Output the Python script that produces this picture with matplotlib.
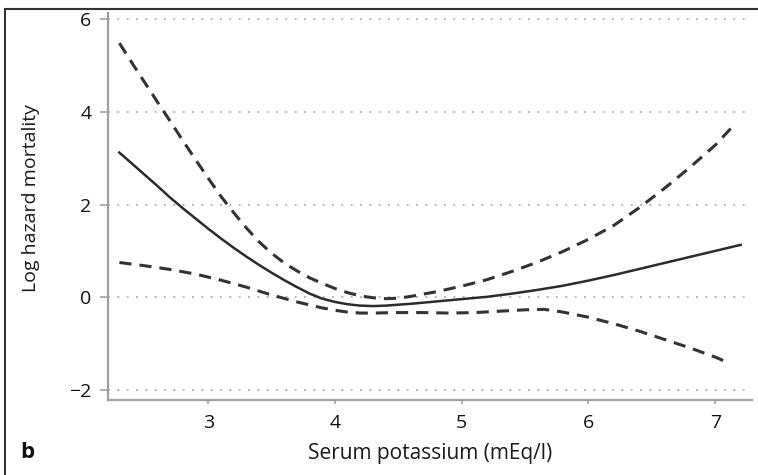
import matplotlib.pyplot as plt
from matplotlib.lines import Line2D

plt.rcParams['font.family'] = ['Open Sans', 'DejaVu Sans']

# Оценка (сплошная линия)
est_x = [2.3, 2.4, 2.5, 2.6, 2.7, 2.8, 2.9, 3.0, 3.1, 3.2, 3.3, 3.4, 3.5, 3.6, 3.7,
         3.8, 3.9, 4.0, 4.1, 4.2, 4.3, 4.4, 4.6, 4.8, 5.0, 5.2, 5.4, 5.6, 5.8, 6.0,
         6.2, 6.4, 6.6, 6.8, 7.0, 7.2]
est_y = [3.12, 2.88, 2.64, 2.40, 2.15, 1.92, 1.70, 1.48, 1.27, 1.07, 0.88, 0.70,
         0.53, 0.37, 0.22, 0.08, -0.03, -0.10, -0.15, -0.18, -0.19, -0.18, -0.14,
         -0.09, -0.04, 0.01, 0.08, 0.16, 0.25, 0.36, 0.48, 0.61, 0.74, 0.87, 1.0, 1.13]

# Верхняя граница доверительного интервала
up_x = [2.3, 2.4, 2.5, 2.6, 2.7, 2.8, 2.9, 3.0, 3.1, 3.2, 3.3, 3.4, 3.5, 3.6, 3.7,
        3.8, 3.9, 4.0, 4.1, 4.2, 4.3, 4.4, 4.5, 4.6, 4.8, 5.0, 5.2, 5.4, 5.6, 5.8,
        6.0, 6.2, 6.4, 6.6, 6.8, 7.0, 7.15]
up_y = [5.48, 5.05, 4.63, 4.21, 3.80, 3.38, 2.97, 2.57, 2.18, 1.83, 1.50, 1.20,
        0.95, 0.74, 0.57, 0.42, 0.30, 0.19, 0.10, 0.03, -0.01, -0.03, -0.02, 0.02,
        0.12, 0.24, 0.38, 0.56, 0.76, 0.99, 1.25, 1.55, 1.93, 2.35, 2.80, 3.28, 3.72]

# Нижняя граница
lo_x = [2.3, 2.5, 2.7, 2.9, 3.1, 3.3, 3.5, 3.7, 3.9, 4.0, 4.1, 4.2, 4.3, 4.5, 4.7,
        4.9, 5.1, 5.3, 5.5, 5.65, 5.8, 6.0, 6.2, 6.4, 6.6, 6.8, 7.0, 7.11]
lo_y = [0.75, 0.68, 0.60, 0.50, 0.37, 0.22, 0.05, -0.10, -0.23, -0.28, -0.32, -0.34,
        -0.34, -0.33, -0.33, -0.34, -0.33, -0.30, -0.27, -0.26, -0.32, -0.43, -0.57,
        -0.73, -0.91, -1.09, -1.29, -1.42]

xticks = [3, 4, 5, 6, 7]
yticks = [-2, 0, 2, 4, 6]

fig = plt.figure(figsize=(7.58, 4.75), dpi=100)
ax = fig.add_axes([108/758, 1 - 400/475, 644/758, 387/475])

for yv in yticks:
    ax.axhline(yv, color='#b5b5b5', lw=1.4, linestyle=(0, (1, 3.8)), zorder=1)

ax.plot(est_x, est_y, color='#2b2b2b', lw=1.8, zorder=3)
ax.plot(up_x, up_y, color='#333333', lw=2.2, linestyle=(0, (4, 2.6)), zorder=3)
ax.plot(lo_x, lo_y, color='#333333', lw=2.2, linestyle=(0, (4, 2.6)), zorder=3)

ax.set_xlim(2.21, 7.29)
ax.set_ylim(-2.215, 6.13)
ax.set_xticks(xticks)
ax.set_yticks(yticks)
ax.set_yticklabels(['\u22122', '0', '2', '4', '6'])

for s in ['top', 'right']:
    ax.spines[s].set_visible(False)
for s in ['left', 'bottom']:
    ax.spines[s].set_color('#a0a0a0')
    ax.spines[s].set_linewidth(1.6)

ax.tick_params(axis='y', length=6, width=1.2, color='#a0a0a0', pad=6,
               labelsize=14, labelcolor='#111111')
ax.tick_params(axis='x', length=3, width=1.2, color='#a0a0a0', pad=7,
               labelsize=14, labelcolor='#111111')

ax.set_xlabel('Serum potassium (mEq/l)', fontsize=15, color='#1a1a1a', labelpad=8)
ax.set_ylabel('Log hazard mortality', fontsize=14, color='#1a1a1a')
ax.yaxis.set_label_coords(-0.105, 0.522)

fig.text(27/758, 1 - 452/475, 'b', fontsize=16, fontweight='bold',
         ha='center', va='center', color='#111111')

# рамка вокруг рисунка
fig.add_artist(Line2D([5/758, 5/758], [0, 1 - 9/475], transform=fig.transFigure,
                      color='#333333', lw=1.5))
fig.add_artist(Line2D([5/758, 1], [1 - 9/475, 1 - 9/475], transform=fig.transFigure,
                      color='#333333', lw=1.5))

fig.savefig('out.png', dpi=100)
